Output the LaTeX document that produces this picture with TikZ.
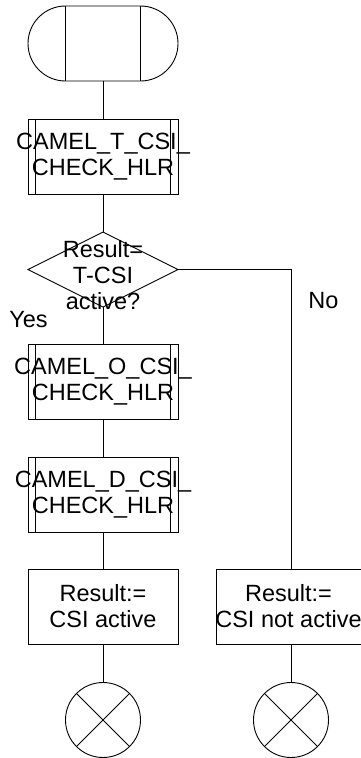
\documentclass[tikz,border=0pt]{standalone}
\usepackage{fontspec}
\setmainfont{Liberation Sans}
\usetikzlibrary{shapes.geometric,shapes.misc}
\begin{document}
\begin{tikzpicture}[x=1pt,y=-1pt,
  base/.style={draw=black, line width=0.9pt, inner sep=0pt, outer sep=0pt},
  txt/.style={font=\fontsize{23.5}{26}\selectfont, align=center, inner sep=0pt},
  bars/.style={path picture={\draw[line width=0.9pt]
      ([xshift=#1]path picture bounding box.north west) -- ([xshift=#1]path picture bounding box.south west)
      ([xshift=-#1]path picture bounding box.north east) -- ([xshift=-#1]path picture bounding box.south east);}},
  term/.style={base, rounded rectangle, minimum width=150pt, minimum height=75pt, bars=37.5pt},
  proc/.style={base, rectangle, minimum width=150pt, minimum height=75pt, bars=7.5pt},
  task/.style={base, rectangle, minimum width=150pt, minimum height=75pt},
  decision/.style={base, diamond, minimum width=150pt, minimum height=75pt},
  stopnode/.style={base, circle, minimum size=75pt},
  conn/.style={line width=0.9pt}
]
\useasboundingbox (0,0) rectangle (361,758);

\node[term] (start) at (103,43.5) {};
\node[proc] (t) at (103,156.5) {};
\node[txt] (tl) at (t.center) {CAMEL\_T\_CSI\_\\CHECK\_HLR};
\node[decision] (d) at (103,269.5) {};
\node[txt] (dl) at ([yshift=-6pt]d.center) {Result=\\T-CSI\\active?};
\node[proc] (o) at (103,381.5) {};
\node[txt] (ol) at (o.center) {CAMEL\_O\_CSI\_\\CHECK\_HLR};
\node[proc] (dd) at (103,494.5) {};
\node[txt] (ddl) at (dd.center) {CAMEL\_D\_CSI\_\\CHECK\_HLR};
\node[task] (r1) at (103,606.5) {};
\node[txt] (r1l) at (r1.center) {Result:=\\CSI active};
\node[task] (r2) at (291,606.5) {};
\node[txt] (r2l) at ([xshift=-2.5pt]r2.center) {Result:=\\CSI not active};
\node[stopnode] (e1) at (103,720) {};
\node[stopnode] (e2) at (291,720) {};
\draw[conn] (e1.north west) -- (e1.south east) (e1.north east) -- (e1.south west);
\draw[conn] (e2.north west) -- (e2.south east) (e2.north east) -- (e2.south west);

\node[txt] (yes) at (28.5,320) {Yes};
\node[txt] (no) at (323.5,301) {No};

\draw[conn] (start.south) -- (t.north);
\draw[conn] (t.south) -- (d.north);
\draw[conn] (d.south) -- (o.north);
\draw[conn] (o.south) -- (dd.north);
\draw[conn] (dd.south) -- (r1.north);
\draw[conn] (r1.south) -- (e1.north);
\draw[conn] (d.east) -| (r2.north);
\draw[conn] (r2.south) -- (e2.north);
\end{tikzpicture}
\end{document}
